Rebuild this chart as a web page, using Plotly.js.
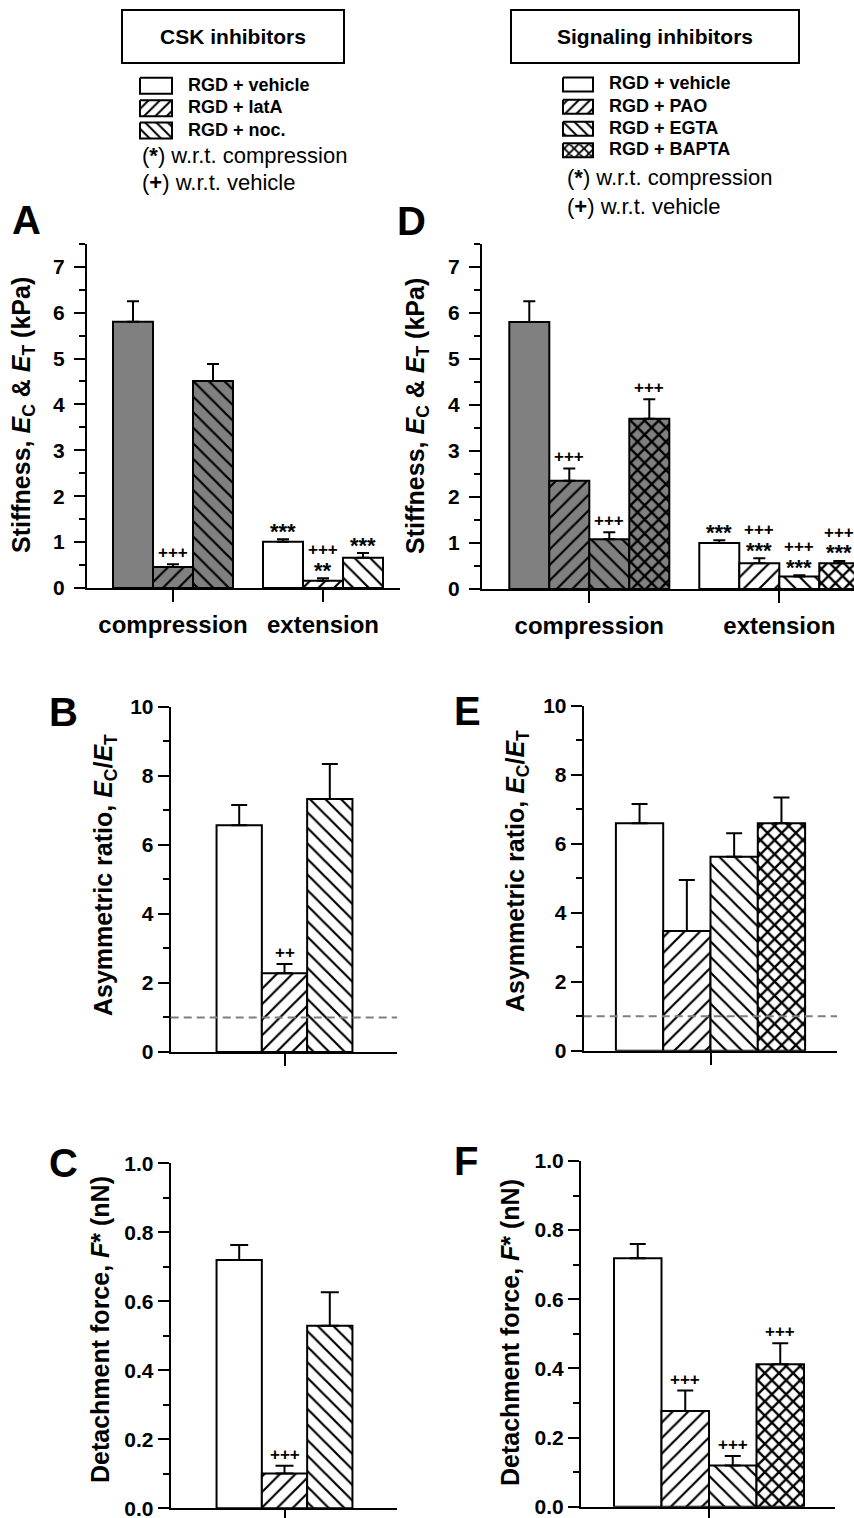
<!DOCTYPE html>
<html>
<head>
<meta charset="utf-8">
<script src="https://cdn.plot.ly/plotly-3.0.1.min.js"></script>
<style>
  html, body { margin: 0; padding: 0; background: #ffffff; }
  #chart { width: 854px; height: 1518px; }
</style>
</head>
<body>
<div id="chart"></div>
<script>
// ===================== DATA =====================
const stiffCats = ['compression', 'extension'];
const cskNames = ['RGD + vehicle', 'RGD + latA', 'RGD + noc.'];
const sigNames = ['RGD + vehicle', 'RGD + PAO', 'RGD + EGTA', 'RGD + BAPTA'];

// Panel A: stiffness, CSK inhibitors (kPa), [compression, extension]
const stiffCskVehicle = [5.80, 1.01];
const stiffCskVehicleErr = [0.45, 0.05];
const stiffCskLatA = [0.46, 0.16];
const stiffCskLatAErr = [0.06, 0.05];
const stiffCskNoc = [4.51, 0.66];
const stiffCskNocErr = [0.37, 0.10];

// Panel D: stiffness, signaling inhibitors (kPa), [compression, extension]
const stiffSigVehicle = [5.80, 1.00];
const stiffSigVehicleErr = [0.45, 0.06];
const stiffSigPAO = [2.35, 0.56];
const stiffSigPAOErr = [0.27, 0.11];
const stiffSigEGTA = [1.08, 0.27];
const stiffSigEGTAErr = [0.15, 0.03];
const stiffSigBAPTA = [3.70, 0.56];
const stiffSigBAPTAErr = [0.42, 0.05];

// Panel B / E: asymmetric ratio E_C/E_T
const ratioCsk = [6.57, 2.28, 7.33];
const ratioCskErr = [0.58, 0.27, 1.01];
const ratioSig = [6.59, 3.47, 5.62, 6.59];
const ratioSigErr = [0.56, 1.48, 0.68, 0.75];
const ratioParity = 1;

// Panel C / F: detachment force F* (nN)
const forceCsk = [0.72, 0.101, 0.529];
const forceCskErr = [0.043, 0.022, 0.097];
const forceSig = [0.719, 0.277, 0.119, 0.412];
const forceSigErr = [0.041, 0.059, 0.028, 0.061];

// Significance marks: [series][category] -> labels from bottom to top
const sigMarksA = [[[], ['***']], [['+++'], ['**', '+++']], [[], ['***']]];
const sigMarksD = [[[], ['***']], [['+++'], ['***', '+++']], [['+++'], ['***', '+++']], [['+++'], ['***', '+++']]];
const sigMarksB = [[[]], [['++']], [[]]];
const sigMarksE = [[[]], [[]], [[]], [[]]];
const sigMarksC = [[[]], [['+++']], [[]]];
const sigMarksF = [[[]], [['+++']], [['+++']], [['+++']]];

const singleCat = ['RGD'];

// ===================== STYLE / LAYOUT =====================
const W = 854, H = 1518;
const FONT = 'Liberation Sans, Arial, Helvetica, sans-serif';
const GRAY = '#808080';
const cskShapes = ['', '/', '\\'];
const sigShapes = ['', '/', '\\', 'x'];
const px2x = v => v / W;
const px2y = v => 1 - v / H;

const panels = [
  { id: '', letter: 'A', cats: stiffCats, shapes: cskShapes, names: cskNames,
    vals: [stiffCskVehicle, stiffCskLatA, stiffCskNoc],
    errs: [stiffCskVehicleErr, stiffCskLatAErr, stiffCskNocErr],
    marks: sigMarksA, fills: [GRAY, '#ffffff'],
    x0: 87, x1: 400, c0: 173, unit: 150, barPx: 40,
    yTop: 243.75, yBot: 588, yMax: 7.5, dtick: 1, minor: 0.5, fmt: '', cap: 6, standoff: 5,
    title: 'Stiffness, <i>E</i><sub>C</sub> &amp; <i>E</i><sub>T</sub> (kPa)', tx: 23, ty: 415,
    lx: 26, ly: 220, catLabels: true, parity: false },
  { id: '2', letter: 'D', cats: stiffCats, shapes: sigShapes, names: sigNames,
    vals: [stiffSigVehicle, stiffSigPAO, stiffSigEGTA, stiffSigBAPTA],
    errs: [stiffSigVehicleErr, stiffSigPAOErr, stiffSigEGTAErr, stiffSigBAPTAErr],
    marks: sigMarksD, fills: [GRAY, '#ffffff'],
    x0: 482, x1: 854, c0: 589.3, unit: 190, barPx: 40,
    yTop: 243.7, yBot: 589, yMax: 7.5, dtick: 1, minor: 0.5, fmt: '', cap: 6, standoff: 5,
    title: 'Stiffness, <i>E</i><sub>C</sub> &amp; <i>E</i><sub>T</sub> (kPa)', tx: 417, ty: 416,
    lx: 411, ly: 221, catLabels: true, parity: false },
  { id: '3', letter: 'B', cats: singleCat, shapes: cskShapes, names: cskNames,
    vals: ratioCsk.map(v => [v]), errs: ratioCskErr.map(v => [v]),
    marks: sigMarksB, fills: ['#ffffff'],
    x0: 170.7, x1: 397, c0: 284.5, unit: 100, barPx: 45.3,
    yTop: 706.7, yBot: 1052, yMax: 10, dtick: 2, minor: 1, fmt: '', cap: 8, standoff: 0,
    title: 'Asymmetric ratio, <i>E</i><sub>C</sub>/<i>E</i><sub>T</sub>', tx: 105, ty: 875,
    lx: 63, ly: 712, catLabels: false, parity: true },
  { id: '4', letter: 'E', cats: singleCat, shapes: sigShapes, names: sigNames,
    vals: ratioSig.map(v => [v]), errs: ratioSigErr.map(v => [v]),
    marks: sigMarksE, fills: ['#ffffff'],
    x0: 583.7, x1: 837, c0: 710.5, unit: 100, barPx: 47.3,
    yTop: 705.7, yBot: 1050.7, yMax: 10, dtick: 2, minor: 1, fmt: '', cap: 8, standoff: 0,
    title: 'Asymmetric ratio, <i>E</i><sub>C</sub>/<i>E</i><sub>T</sub>', tx: 517, ty: 871,
    lx: 467, ly: 711, catLabels: false, parity: true },
  { id: '5', letter: 'C', cats: singleCat, shapes: cskShapes, names: cskNames,
    vals: forceCsk.map(v => [v]), errs: forceCskErr.map(v => [v]),
    marks: sigMarksC, fills: ['#ffffff'],
    x0: 170.7, x1: 397, c0: 284.5, unit: 100, barPx: 45.3,
    yTop: 1163.3, yBot: 1508.3, yMax: 1, dtick: 0.2, minor: 0.1, fmt: '.1f', cap: 9, standoff: 0,
    title: 'Detachment force, <i>F</i>* (nN)', tx: 100, ty: 1330,
    lx: 63, ly: 1163, catLabels: false, parity: false },
  { id: '6', letter: 'F', cats: singleCat, shapes: sigShapes, names: sigNames,
    vals: forceSig.map(v => [v]), errs: forceSigErr.map(v => [v]),
    marks: sigMarksF, fills: ['#ffffff'],
    x0: 581, x1: 835, c0: 709, unit: 100, barPx: 47.5,
    yTop: 1161, yBot: 1506.7, yMax: 1, dtick: 0.2, minor: 0.1, fmt: '.1f', cap: 8, standoff: 0,
    title: 'Detachment force, <i>F</i>* (nN)', tx: 510, ty: 1333,
    lx: 466, ly: 1161, catLabels: false, parity: false }
];

function patternFor(shape, bg) {
  return { shape: shape, bgcolor: bg, fgcolor: '#000000', fgopacity: 1, fillmode: 'replace',
    size: shape === 'x' ? 10 : 11, solidity: shape === 'x' ? 0.42 : 0.2 };
}

const traces = [];
const layout = {
  width: W, height: H,
  margin: { l: 0, r: 0, t: 0, b: 0, pad: 0 },
  paper_bgcolor: '#ffffff', plot_bgcolor: 'rgba(0,0,0,0)',
  barmode: 'overlay', showlegend: false,
  font: { family: FONT, color: '#000000' },
  annotations: [], shapes: []
};

panels.forEach(p => {
  const n = p.vals.length;
  const bw = p.barPx / p.unit;
  const xa = 'x' + p.id, ya = 'y' + p.id;
  p.vals.forEach((vals, i) => {
    const shape = p.shapes[i];
    p.cats.forEach((cat, j) => {
      const fill = p.fills[j];
      const marker = { color: fill, line: { color: '#000000', width: 2 } };
      if (shape) marker.pattern = patternFor(shape, fill);
      traces.push({
        type: 'bar', x: [cat], y: [vals[j]], xaxis: xa, yaxis: ya,
        width: bw, offset: (i - n / 2) * bw,
        marker: marker,
        error_y: { type: 'data', symmetric: false, array: [p.errs[i][j]], arrayminus: [0],
          color: '#000000', thickness: 2, width: p.cap },
        hoverinfo: 'skip', showlegend: false, name: p.names[i] + ' (' + cat + ')'
      });
      // significance marks
      p.marks[i][j].forEach((lab, k) => {
        const isStar = lab.indexOf('*') >= 0;
        const glyphCenter = isStar ? 18.5 : 10;
        const want = k === 0 ? (isStar ? 12 : 10) : 27;
        layout.annotations.push({
          xref: xa, yref: ya, x: j + (i - n / 2) * bw + bw / 2, y: vals[j] + p.errs[i][j],
          text: lab, showarrow: false, xanchor: 'center', yanchor: 'bottom',
          yshift: want - glyphCenter,
          font: { family: FONT, size: isStar ? 22 : 17, weight: 'bold', color: '#000000' }
        });
      });
    });
  });

  layout['xaxis' + p.id] = {
    domain: [px2x(p.x0), px2x(p.x1)], anchor: ya, type: 'category',
    range: [(p.x0 - p.c0) / p.unit, (p.x1 - p.c0) / p.unit],
    showline: true, linecolor: '#000000', linewidth: 2, mirror: false,
    ticks: 'outside', ticklen: 12, tickwidth: 2, tickcolor: '#000000',
    showgrid: false, zeroline: false, fixedrange: true,
    showticklabels: p.catLabels, ticklabelstandoff: 2, ticklabeloverflow: 'allow',
    tickfont: { family: FONT, size: 24, weight: 'bold', color: '#000000' }
  };
  layout['yaxis' + p.id] = {
    domain: [px2y(p.yBot), px2y(p.yTop)], anchor: xa,
    range: [0, p.yMax], tick0: 0, dtick: p.dtick, tickformat: p.fmt,
    showline: true, linecolor: '#000000', linewidth: 2,
    ticks: 'outside', ticklen: 11, tickwidth: 2, tickcolor: '#000000',
    minor: { dtick: p.minor, tick0: 0, ticks: 'outside', ticklen: 6, tickwidth: 2, tickcolor: '#000000', showgrid: false },
    showgrid: false, zeroline: false, fixedrange: true,
    ticklabelstandoff: p.standoff, ticklabeloverflow: 'allow',
    tickfont: { family: FONT, size: 21, weight: 'bold', color: '#000000' }
  };
  // y-axis title
  layout.annotations.push({
    xref: 'paper', yref: 'paper', x: px2x(p.tx), y: px2y(p.ty), text: p.title,
    textangle: -90, showarrow: false, xanchor: 'center', yanchor: 'middle',
    font: { family: FONT, size: 25, weight: 'bold', color: '#000000' }
  });
  // panel letter
  layout.annotations.push({
    xref: 'paper', yref: 'paper', x: px2x(p.lx), y: px2y(p.ly), text: p.letter,
    showarrow: false, xanchor: 'center', yanchor: 'middle',
    font: { family: FONT, size: 40, weight: 'bold', color: '#000000' }
  });
  if (p.parity) {
    layout.shapes.push({
      type: 'line', xref: xa + ' domain', yref: ya, x0: 0, x1: 1, y0: ratioParity, y1: ratioParity,
      line: { color: '#7f7f7f', width: 2, dash: '8px,5px' }, layer: 'above'
    });
  }
});

// ===================== LEGENDS (drawn on a full-page overlay axis) =====================
layout.xaxis7 = { domain: [0, 1], range: [0, W], visible: false, fixedrange: true, anchor: 'y7' };
layout.yaxis7 = { domain: [0, 1], range: [H, 0], visible: false, fixedrange: true, anchor: 'x7' };

const legends = [
  { names: cskNames, shapes: cskShapes, sx0: 140, sx1: 172, rows: [85.7, 108.3, 130.5], sh: 16, tx: 186,
    box: { cx: 233.3, cy: 36.7, w: 220, h: 51, text: 'CSK inhibitors' },
    notes: { x: 140, y: [155, 183] } },
  { names: sigNames, shapes: sigShapes, sx0: 563, sx1: 593, rows: [84.5, 106.7, 128.8, 150.3], sh: 14, tx: 607,
    box: { cx: 654.7, cy: 36.7, w: 286, h: 51, text: 'Signaling inhibitors' },
    notes: { x: 565, y: [177.7, 206.7] } }
];
legends.forEach(L => {
  L.names.forEach((nm, i) => {
    const yc = L.rows[i], h = L.sh;
    const t = {
      type: 'scatter', mode: 'lines', xaxis: 'x7', yaxis: 'y7',
      x: [L.sx0, L.sx1, L.sx1, L.sx0, L.sx0], y: [yc - h / 2, yc - h / 2, yc + h / 2, yc + h / 2, yc - h / 2],
      fill: 'toself', fillcolor: '#ffffff', line: { color: '#000000', width: 2 },
      hoverinfo: 'skip', showlegend: false
    };
    if (L.shapes[i]) {
      t.fillpattern = { shape: L.shapes[i], fgcolor: '#000000', bgcolor: '#ffffff', fgopacity: 1, fillmode: 'replace',
        size: L.shapes[i] === 'x' ? 7 : 8, solidity: L.shapes[i] === 'x' ? 0.45 : 0.25 };
    }
    traces.push(t);
    layout.annotations.push({
      xref: 'paper', yref: 'paper', x: px2x(L.tx), y: px2y(yc - 1), text: nm, showarrow: false,
      xanchor: 'left', yanchor: 'middle', font: { family: FONT, size: 18, weight: 'bold', color: '#000000' }
    });
  });
  layout.annotations.push({
    xref: 'paper', yref: 'paper', x: px2x(L.box.cx), y: px2y(L.box.cy), text: L.box.text, showarrow: false,
    xanchor: 'center', yanchor: 'middle', width: L.box.w, height: L.box.h, align: 'center', valign: 'middle',
    bordercolor: '#000000', borderwidth: 2, borderpad: 0, bgcolor: '#ffffff',
    font: { family: FONT, size: 21, weight: 'bold', color: '#000000' }
  });
  ['(<b>*</b>) w.r.t. compression', '(<b>+</b>) w.r.t. vehicle'].forEach((txt, k) => {
    layout.annotations.push({
      xref: 'paper', yref: 'paper', x: px2x(L.notes.x), y: px2y(L.notes.y[k]), text: txt, showarrow: false,
      xanchor: 'left', yanchor: 'middle', font: { family: FONT, size: 22, color: '#000000' }
    });
  });
});

Plotly.newPlot('chart', traces, layout, { staticPlot: true, displayModeBar: false });
</script>
</body>
</html>
